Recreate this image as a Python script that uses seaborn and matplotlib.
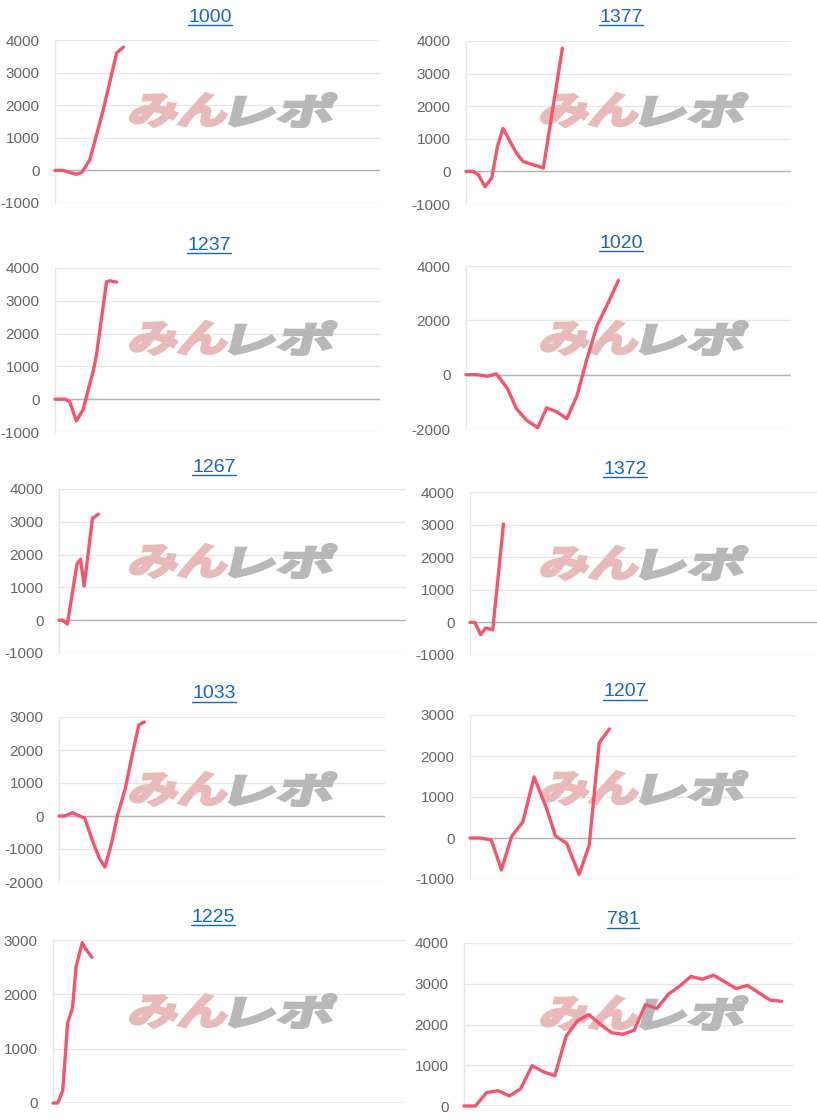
import matplotlib
matplotlib.use("Agg")
import matplotlib.pyplot as plt
import seaborn as sns
import pandas as pd
from matplotlib.textpath import TextPath
from matplotlib.patches import PathPatch
from matplotlib.font_manager import FontProperties
from matplotlib.transforms import Affine2D, IdentityTransform
from matplotlib.lines import Line2D

# titles (machine numbers)
titles = ['1000', '1377', '1237', '1020', '1267', '1372', '1033', '1207', '1225', '781']

# x = position along the game axis (0..290), y = coin difference
x_1000 = [0, 7, 19, 24, 31, 43, 55, 61]
y_1000 = [0, 0, -120, -60, 320, 1850, 3600, 3780]

x_1377 = [0, 6, 11, 17, 23, 28, 33, 45, 51, 66, 69, 86]
y_1377 = [0, 0, -100, -470, -200, 750, 1320, 560, 300, 140, 100, 3780]

x_1237 = [0, 9, 13, 19, 25, 30, 34, 37, 46, 49, 55]
y_1237 = [0, 0, -70, -660, -330, 340, 840, 1350, 3580, 3610, 3570]

x_1020 = [0, 10, 19, 27, 37, 45, 54, 64, 72, 81, 90, 99, 108, 117, 127, 136]
y_1020 = [0, 0, -60, 30, -510, -1250, -1680, -1950, -1220, -1370, -1620, -780, 590, 1810, 2660, 3470]

x_1267 = [0, 3, 7, 15, 18, 21, 28, 33]
y_1267 = [0, 0, -120, 1710, 1860, 1040, 3110, 3230]

x_1372 = [0, 4, 9, 13, 19, 28]
y_1372 = [0, 0, -380, -170, -230, 3020]

x_1033 = [0, 5, 12, 17, 23, 29, 36, 41, 47, 52, 59, 65, 71, 76]
y_1033 = [0, 0, 100, 20, -70, -680, -1290, -1550, -790, 20, 840, 1830, 2760, 2850]

x_1207 = [0, 9, 19, 28, 37, 47, 57, 68, 76, 86, 97, 106, 115, 124]
y_1207 = [0, 0, -50, -780, 40, 390, 1490, 730, 50, -130, -890, -180, 2330, 2660]

x_1225 = [0, 4, 8, 12, 16, 19, 24, 27, 32]
y_1225 = [0, 0, 230, 1470, 1750, 2510, 2950, 2830, 2680]

x_781 = [0, 10, 20, 30, 40, 50, 60, 70, 80, 90, 100, 110, 120, 130, 140,
         150, 160, 170, 180, 190, 200, 210, 220, 230, 240, 250, 260, 270, 280]
y_781 = [0, 0, 330, 375, 245, 425, 990, 840, 740, 1710, 2090, 2245, 2010, 1800, 1760,
         1860, 2490, 2390, 2740, 2940, 3180, 3110, 3210, 3045, 2880, 2960, 2775, 2595, 2570]

series_x = [x_1000, x_1377, x_1237, x_1020, x_1267, x_1372, x_1033, x_1207, x_1225, x_781]
series_y = [y_1000, y_1377, y_1237, y_1020, y_1267, y_1372, y_1033, y_1207, y_1225, y_781]

yticks = [
    [-1000, 0, 1000, 2000, 3000, 4000],
    [-1000, 0, 1000, 2000, 3000, 4000],
    [-1000, 0, 1000, 2000, 3000, 4000],
    [-2000, 0, 2000, 4000],
    [-1000, 0, 1000, 2000, 3000, 4000],
    [-1000, 0, 1000, 2000, 3000, 4000],
    [-2000, -1000, 0, 1000, 2000, 3000],
    [-1000, 0, 1000, 2000, 3000],
    [0, 1000, 2000, 3000],
    [0, 1000, 2000, 3000, 4000],
]

# layout in pixels: plot box (left, top, right, bottom), title centre
W, H = 817, 1120
boxes = [
    (55, 40, 380, 203), (466, 41, 791, 204),
    (55, 268, 380, 432), (466, 266, 791, 429),
    (59, 489, 406, 653), (470, 492, 817, 655),
    (59, 717, 385, 882), (470, 715, 796, 879),
    (53, 940, 406, 1103), (464, 943, 793, 1106),
]
title_pos = [
    (210, 17), (621, 17),
    (209, 245), (621, 243),
    (214, 467), (625, 469),
    (214, 694), (625, 692),
    (213, 917), (623, 920),
]
wm_y = [110, 110, 338, 338, 561, 563, 789, 788, 1011, 1013]

line_color = '#f5546f'
grid_color = '#e6e6e6'
zero_color = '#b4b4b4'
title_color = '#1a66b8'

sns.set_theme(style='white')
plt.rcParams['font.family'] = ['Liberation Sans', 'DejaVu Sans']

fig = plt.figure(figsize=(W / 100, H / 100), dpi=100)
wm_font = FontProperties(family='Noto Sans CJK JP', weight='bold')


def watermark(ax, cx, cy):
    for txt, col, dx, w in [('みん', '#e9baba', -52, 95), ('レポ', '#b8b8b8', 51, 100)]:
        tp = TextPath((0, 0), txt, size=1, prop=wm_font)
        ext = tp.get_extents()
        tr = (Affine2D()
              .translate(-ext.x0 - ext.width / 2, -ext.y0 - ext.height / 2)
              .scale(w / ext.width, 33 / ext.height)
              .skew_deg(14, 0)
              .translate(cx + dx, H - cy))
        p = PathPatch(tr.transform_path(tp), facecolor=col, edgecolor=col, linewidth=2.2,
                      joinstyle='miter', transform=IdentityTransform(), zorder=1, clip_on=False)
        ax.add_artist(p)


title_texts = []
for i in range(len(titles)):
    l, t, r, b = boxes[i]
    ax = fig.add_axes([l / W, 1 - b / H, (r - l) / W, (b - t) / H])
    ax.patch.set_alpha(0)
    df = pd.DataFrame({'x': series_x[i], 'y': series_y[i]})
    sns.lineplot(data=df, x='x', y='y', ax=ax, color=line_color, linewidth=2.4,
                 zorder=3, clip_on=False)
    ax.set_xlim(0, 290)
    ax.set_ylim(yticks[i][0], yticks[i][-1])
    ax.set_yticks(yticks[i])
    ax.set_yticklabels([str(v) for v in yticks[i]])
    ax.set_xticks([])
    ax.set_xlabel('')
    ax.set_ylabel('')
    ax.yaxis.grid(True, color=grid_color, linewidth=1)
    ax.set_axisbelow(True)
    ax.axhline(0, color=zero_color, linewidth=1, zorder=0.8)
    for s in ['top', 'right', 'bottom']:
        ax.spines[s].set_visible(False)
    ax.spines['left'].set_color(grid_color)
    ax.spines['left'].set_linewidth(1)
    ax.tick_params(axis='y', length=8, width=1, color=grid_color, labelcolor='#666666',
                   labelsize=11, pad=3)
    cx = 232 if l < 400 else 643
    watermark(ax, cx, wm_y[i])
    tx, ty = title_pos[i]
    txt = fig.text(tx / W, 1 - ty / H, titles[i], color=title_color, fontsize=14,
                   ha='center', va='center')
    title_texts.append(txt)

# underline the titles like links
fig.canvas.draw()
renderer = fig.canvas.get_renderer()
for txt in title_texts:
    bb = txt.get_window_extent(renderer)
    y = bb.y0 + 1
    fig.add_artist(Line2D([bb.x0, bb.x1], [y, y], color=title_color, linewidth=1,
                          transform=IdentityTransform()))

fig.savefig('out.png', dpi=100)
